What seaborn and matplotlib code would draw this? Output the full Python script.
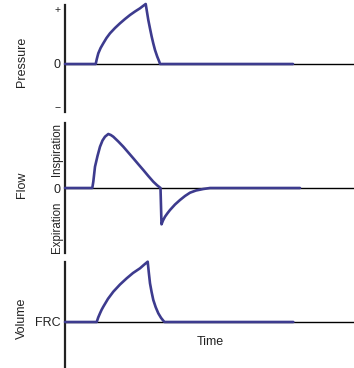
import matplotlib
matplotlib.use("Agg")
import matplotlib.pyplot as plt
import seaborn as sns

# values (time and amplitude in arbitrary units, zero = baseline)
pressure_t = [0, 30.7, 31.8, 33.3, 35.6, 38.3, 41.5, 45, 50, 55, 60, 65, 70, 75, 78, 80.7,
              82, 83.3, 85, 86.7, 88.3, 90, 92.2, 94.3, 95, 228]
pressure_v = [0, 0, 5, 10.7, 16, 20.7, 26, 30.7, 36, 40.7, 45, 49, 52.5, 55.7, 58, 60,
              52, 44, 35.5, 27.3, 20.5, 14, 7.5, 2.3, 0, 0]

flow_t = [0, 27.3, 28.3, 30, 32.5, 35, 37.5, 40, 43.3, 45.8, 48.3, 53.3, 58.3, 63.3, 68.3,
          73.3, 78.3, 83.3, 88.3, 92, 95.5,
          96.5, 98, 100, 102.5, 105, 110, 115, 120, 125, 131, 138.3, 145, 235]
flow_v = [0, 0, 6.3, 21.3, 32, 41.3, 47.5, 51.3, 54, 53, 51.3, 46.5, 41.3, 35.5, 29.7,
          23.8, 18, 12, 6.3, 2.8, 0,
          -36.3, -32.5, -28.7, -25.2, -22, -16.5, -12, -8, -4.7, -2.5, -1, 0, 0]

volume_t = [0, 31.7, 33.2, 35, 36.6, 38.3, 43, 48.3, 55, 61.7, 68, 75, 79, 82.7,
            83.8, 85, 86.6, 88.3, 90.7, 93.3, 96, 98.3, 99.5, 228.3]
volume_v = [0, 0, 4.5, 8.7, 12.2, 15.3, 23.2, 30.3, 37.5, 43.7, 49, 53.7, 57.2, 60.3,
            49.5, 38.7, 30, 22, 14.8, 8.7, 4.2, 1.3, 0, 0]

sns.set_style("white")
plt.rcParams["font.family"] = ["Liberation Sans", "DejaVu Sans"]

W, H = 354, 368
fig = plt.figure(figsize=(W / 100, H / 100), dpi=100)
line_color = "#3d3b8e"
txt = "#222222"


def px(x, y):
    return x / W, 1 - y / H


def make_panel(top, bottom, zero, t, v):
    ax = fig.add_axes([65 / W, 1 - bottom / H, 289 / W, (bottom - top) / H])
    sns.lineplot(x=t, y=v, sort=False, estimator=None, color=line_color,
                 linewidth=1.9, ax=ax, clip_on=False, zorder=3)
    ax.axhline(0, color="black", linewidth=1, zorder=2)
    ax.set_xlim(0, 289)
    ax.set_ylim(-(bottom - zero), zero - top)
    for s in ["top", "right", "bottom"]:
        ax.spines[s].set_visible(False)
    ax.spines["left"].set_linewidth(1.6)
    ax.spines["left"].set_color(txt)
    ax.set_xticks([])
    ax.set_yticks([])
    ax.set_xlabel("")
    ax.set_ylabel("")
    ax.patch.set_alpha(0)
    return ax


make_panel(5, 112, 64, pressure_t, pressure_v)
make_panel(123, 253, 188, flow_t, flow_v)
make_panel(262, 368, 322, volume_t, volume_v)

fs = 9
fig.text(*px(22, 62), "Pressure", rotation=90, ha="center", va="center", fontsize=fs, color=txt)
fig.text(*px(58, 10), "+", ha="center", va="center", fontsize=fs - 1.5, color=txt)
fig.text(*px(57, 64), "0", ha="center", va="center_baseline", fontsize=fs, color=txt)
fig.text(*px(58, 108), "\u2212", ha="center", va="center", fontsize=fs - 1.5, color=txt)

fig.text(*px(22, 185), "Flow", rotation=90, ha="center", va="center", fontsize=fs, color=txt)
fig.text(*px(57, 149), "Inspiration", rotation=90, ha="center", va="center", fontsize=fs - 0.7, color=txt)
fig.text(*px(57, 188), "0", ha="center", va="center_baseline", fontsize=fs, color=txt)
fig.text(*px(57, 227), "Expiration", rotation=90, ha="center", va="center", fontsize=fs - 0.7, color=txt)

fig.text(*px(22, 318), "Volume", rotation=90, ha="center", va="center", fontsize=fs, color=txt)
fig.text(*px(61, 322), "FRC", ha="right", va="center_baseline", fontsize=fs, color=txt)
fig.text(*px(210, 342), "Time", ha="center", va="center", fontsize=fs, color=txt)

fig.savefig("out.png", dpi=100)
